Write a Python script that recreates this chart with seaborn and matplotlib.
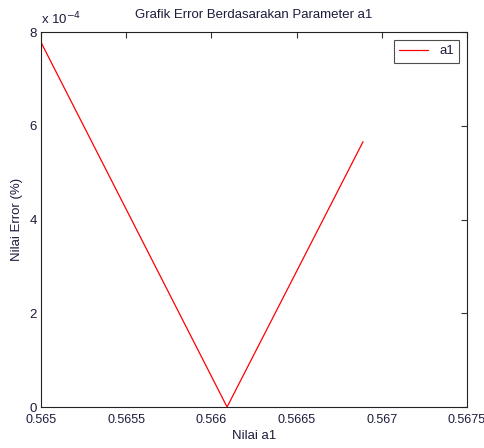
import matplotlib
matplotlib.use("Agg")
import matplotlib.pyplot as plt
import seaborn as sns
import pandas as pd
import numpy as np

a1_values = [0.565, 0.566092, 0.56689]
error_values = [7.78e-4, 0.0, 5.66e-4]
x_ticks = [0.565, 0.5655, 0.566, 0.5665, 0.567, 0.5675]
x_tick_labels = ["0.565", "0.5655", "0.566", "0.5665", "0.567", "0.5675"]
y_ticks = [0, 2e-4, 4e-4, 6e-4, 8e-4]
y_tick_labels = ["0", "2", "4", "6", "8"]

sns.set_style("white")
plt.rcParams['font.family'] = ['Liberation Sans', 'DejaVu Sans']
txt = '#1c1c3c'

df = pd.DataFrame({"a1": a1_values, "err": error_values, "series": "a1"})

fig = plt.figure(figsize=(4.85, 4.48), dpi=100)
ax = fig.add_axes([41/485, 41/448, 426/485, 375/448])
sns.lineplot(data=df, x="a1", y="err", hue="series", palette=["#ff0000"],
             linewidth=0.9, ax=ax, sort=False)

ax.set_xlim(0.565, 0.5675)
ax.set_ylim(0, 8e-4)
ax.set_xticks(x_ticks)
ax.set_xticklabels(x_tick_labels)
ax.set_yticks(y_ticks)
ax.set_yticklabels(y_tick_labels)
ax.tick_params(direction='in', top=True, right=True, length=4, width=0.8,
               labelsize=9.5, colors='#333333', labelcolor=txt)
ax.tick_params(axis='x', pad=5, labelsize=9)
ax.tick_params(axis='y', pad=3)
for s in ax.spines.values():
    s.set_visible(True)
    s.set_color('#222222')
    s.set_linewidth(0.8)

ax.set_xlabel("Nilai a1", fontsize=9.5, color=txt, labelpad=3)
ax.set_ylabel("Nilai Error (%)", fontsize=9.5, color=txt, labelpad=5)
ax.set_title("Grafik Error Berdasarakan Parameter a1", fontsize=9.5, color=txt, pad=10)
ax.text(0.0, 1.012, r"x 10$^{-4}$", transform=ax.transAxes, fontsize=9.5,
        color=txt, ha='left', va='bottom')

leg = ax.legend(loc='upper right', fontsize=9.5, frameon=True, fancybox=False,
                handlelength=2.2, borderaxespad=0.6)
leg.get_frame().set_edgecolor('#222222')
leg.get_frame().set_linewidth(0.8)
for t in leg.get_texts():
    t.set_color(txt)

fig.savefig("out.png", dpi=100)
